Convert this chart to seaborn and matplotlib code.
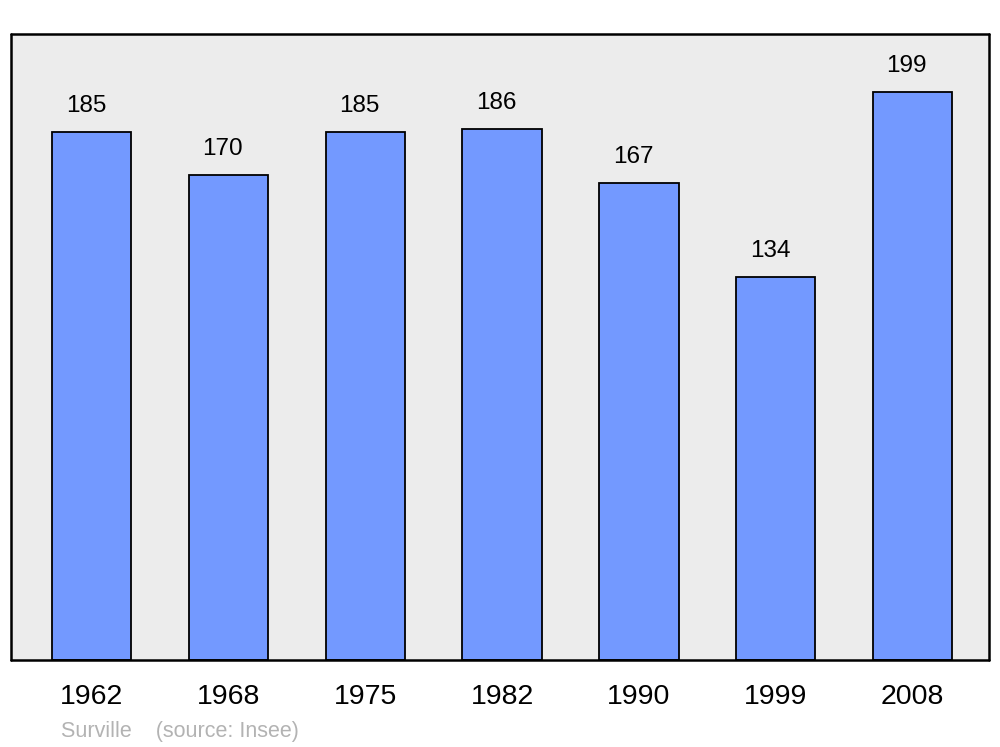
import matplotlib
matplotlib.use("Agg")
import matplotlib.pyplot as plt
import seaborn as sns
import pandas as pd

years = ["1962", "1968", "1975", "1982", "1990", "1999", "2008"]
population = [185, 170, 185, 186, 167, 134, 199]

df = pd.DataFrame({"year": years, "pop": population})

sns.set_style("white")
plt.rcParams["font.family"] = ["Liberation Sans", "DejaVu Sans"]
plt.rcParams["text.color"] = "black"
plt.rcParams["xtick.color"] = "black"

fig = plt.figure(figsize=(10, 7.47), dpi=100)
ax = fig.add_axes([0.011, 0.1165, 0.978, 0.838])
ax.set_facecolor("#ececec")

sns.barplot(data=df, x="year", y="pop", color="#7399ff", saturation=1,
            width=0.58, edgecolor="black", linewidth=1.3, ax=ax)

for i, v in enumerate(population):
    ax.annotate(str(v), (i, v), xytext=(-4, 14.5), textcoords="offset points",
                ha="center", va="baseline", fontsize=17.5, color="black")

ax.set_xlim(-0.59, 6.56)
ax.set_ylim(0, 219.3)
ax.set_yticks([])
ax.set_xlabel("")
ax.set_ylabel("")
ax.tick_params(axis="x", length=0, pad=17, labelsize=20.5, labelcolor="black")
for s in ax.spines.values():
    s.set_visible(True)
    s.set_linewidth(1.8)
    s.set_color("black")
    s.set_capstyle("round")
    s.set_joinstyle("round")

fig.text(0.061, 10 / 747, "Surville    (source: Insee)", color="#b3b3b3",
         fontsize=15.5, va="baseline", ha="left")

fig.savefig("out.png", dpi=100, facecolor="white")
